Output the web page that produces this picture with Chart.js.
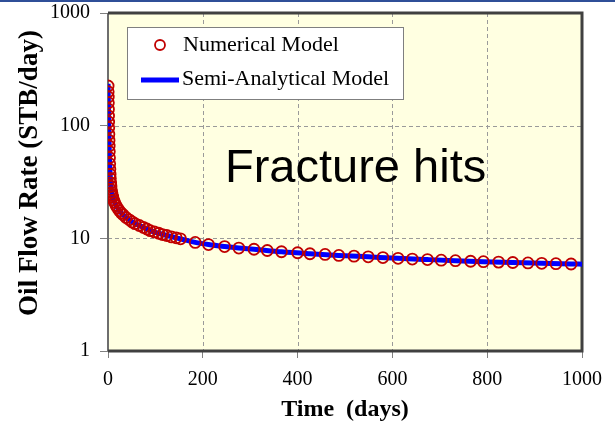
<!DOCTYPE html>
<html>
<head>
<meta charset="utf-8">
<script src="https://cdn.jsdelivr.net/npm/chart.js@4.4.0/dist/chart.umd.min.js"></script>
<style>
  html, body { margin: 0; padding: 0; background: #fff; }
  #wrap { position: relative; width: 615px; height: 434px; }
  #myChart { display: block; }
  #topbar { position: absolute; left: 0; top: 0; width: 615px; height: 2px; background: #2f4f98; }
</style>
</head>
<body>
<div id="wrap">
  <canvas id="myChart" width="615" height="434"></canvas>
  <div id="topbar"></div>
</div>
<script>
// Numerical model (red circles)
const numTimes = [0.2, 0.4, 0.6, 0.8, 1.0, 1.2, 1.4, 1.6, 1.9, 2.2, 2.5, 2.8, 3.2, 3.6, 4.0, 4.5, 5, 5.6, 6.3, 7, 8, 9, 10,
  12, 14, 17, 20, 24, 28, 32, 38, 45, 51, 57, 66, 75, 82, 89, 98, 107, 115, 124, 134, 144, 153,
  184, 212, 246, 276, 308, 336, 366, 400, 426, 458, 487, 519, 549, 580, 612, 642, 674, 703, 733,
  765, 792, 824, 854, 886, 915, 945, 977];
const numRates = [225, 200, 180, 160, 140, 122, 108, 96, 84, 74, 66, 59, 52, 46, 41, 37, 34, 31, 29, 27, 25.5, 24.3, 23.3,
  21.8, 20.8, 19.6, 18.6, 17.6, 16.8, 16.2, 15.3, 14.6, 14.0, 13.5, 13.0, 12.5, 12.1, 11.7, 11.4, 11.1, 10.8, 10.6, 10.3, 10.1, 9.9,
  9.2, 8.8, 8.45, 8.2, 8.0, 7.8, 7.6, 7.45, 7.3, 7.2, 7.05, 6.95, 6.85, 6.75, 6.65, 6.55, 6.48, 6.4, 6.33,
  6.26, 6.2, 6.15, 6.1, 6.05, 6.0, 5.96, 5.92];

// Semi-analytical model (blue line)
const lineTimes = [0.1, 0.3, 0.6, 1, 1.4, 1.8, 2.2, 2.6, 3, 3.5, 4, 5, 6, 7, 8, 10, 12, 14, 17, 20, 24, 28, 32, 38, 45,
  51, 57, 66, 75, 89, 107, 124, 144, 166, 184, 212, 246, 276, 308, 366, 426, 487, 549, 612, 674, 733, 792,
  854, 915, 977, 1000];
const lineRates = [235, 212, 180, 140, 108, 90, 74, 62, 54, 46, 41, 34, 30, 27, 25.5, 23.3, 21.8, 20.8, 19.6, 18.6, 17.6, 16.8, 16.2, 15.3, 14.6,
  14.0, 13.5, 13.0, 12.5, 11.7, 11.1, 10.6, 10.1, 9.6, 9.2, 8.8, 8.45, 8.2, 8.0, 7.6, 7.3, 7.05, 6.85, 6.65, 6.48, 6.33, 6.2,
  6.1, 6.0, 5.92, 5.9];

const xTicks = [0, 200, 400, 600, 800, 1000];
const yTicks = [1, 10, 100, 1000];

const seriesNames = ['Numerical Model', 'Semi-Analytical Model'];
const noteText = 'Fracture hits';
const yTitle = 'Oil Flow Rate (STB/day)';

const serif = '"Liberation Serif", "Times New Roman", serif';

const frame = {
  id: 'frame',
  beforeDraw(chart) {
    const {ctx, chartArea: a} = chart;
    ctx.save();
    ctx.fillStyle = '#ffffff';
    ctx.fillRect(0, 0, chart.width, chart.height);
    ctx.fillStyle = '#FFFFE1';
    ctx.fillRect(a.left, a.top, a.right - a.left, a.bottom - a.top);
    ctx.restore();
  },
  beforeDatasetsDraw(chart) {
    const {ctx, chartArea: a, scales} = chart;
    ctx.save();
    // dashed grid
    ctx.strokeStyle = '#9a9a9a';
    ctx.lineWidth = 1;
    ctx.setLineDash([4, 3]);
    xTicks.slice(1, -1).forEach(v => {
      const px = Math.round(scales.x.getPixelForValue(v)) + 0.5;
      ctx.beginPath();
      ctx.moveTo(px, a.top);
      ctx.lineTo(px, a.bottom);
      ctx.stroke();
    });
    yTicks.slice(1, -1).forEach(v => {
      const py = Math.round(scales.y.getPixelForValue(v)) + 0.5;
      ctx.beginPath();
      ctx.moveTo(a.left, py);
      ctx.lineTo(a.right, py);
      ctx.stroke();
    });
    ctx.setLineDash([]);
    // frame
    ctx.strokeStyle = '#6e6e6e';
    ctx.lineWidth = 2;
    ctx.beginPath();
    ctx.moveTo(a.left, a.top);
    ctx.lineTo(a.left, a.bottom);
    ctx.stroke();
    ctx.strokeStyle = '#404040';
    ctx.lineWidth = 3;
    ctx.beginPath();
    ctx.moveTo(a.left, a.top);
    ctx.lineTo(a.right, a.top);
    ctx.lineTo(a.right, a.bottom);
    ctx.lineTo(a.left, a.bottom);
    ctx.stroke();
    ctx.restore();
  },
  afterDatasetsDraw(chart) {
    const {ctx, chartArea: a} = chart;
    ctx.save();
    // legend box
    const lx = a.left + 19, ly = a.top + 14;
    ctx.fillStyle = '#ffffff';
    ctx.fillRect(lx, ly, 276, 72);
    ctx.strokeStyle = '#7f7f7f';
    ctx.lineWidth = 1;
    ctx.strokeRect(lx + 0.5, ly + 0.5, 276, 72);

    ctx.strokeStyle = '#C00000';
    ctx.lineWidth = 1.8;
    ctx.beginPath();
    ctx.arc(lx + 33, ly + 18, 5, 0, Math.PI * 2);
    ctx.stroke();

    ctx.strokeStyle = '#0000ff';
    ctx.lineWidth = 5;
    ctx.beginPath();
    ctx.moveTo(lx + 14, ly + 53);
    ctx.lineTo(lx + 52, ly + 53);
    ctx.stroke();

    ctx.fillStyle = '#000';
    ctx.font = '22px ' + serif;
    ctx.textBaseline = 'alphabetic';
    ctx.fillText(seriesNames[0], lx + 56, ly + 24);
    ctx.fillText(seriesNames[1], lx + 55, ly + 58);

    // annotation
    ctx.font = '47px "Liberation Sans", Arial, sans-serif';
    ctx.fillText(noteText, 225, 182);

    // y axis title
    ctx.translate(30, 173);
    ctx.rotate(-Math.PI / 2);
    ctx.font = 'bold 27px ' + serif;
    ctx.textAlign = 'center';
    ctx.textBaseline = 'middle';
    ctx.fillText(yTitle, 0, 0);
    ctx.restore();
  }
};

const tickFont = {family: serif, size: 20};

new Chart(document.getElementById('myChart'), {
  type: 'scatter',
  data: {
    datasets: [{
      type: 'scatter',
      label: seriesNames[0],
      data: numTimes.map((t, i) => ({x: t, y: numRates[i]})),
      pointRadius: 5.5,
      pointBorderWidth: 1.8,
      pointBorderColor: '#C00000',
      pointBackgroundColor: 'rgba(0,0,0,0)'
    }, {
      type: 'line',
      label: seriesNames[1],
      data: lineTimes.map((t, i) => ({x: t, y: lineRates[i]})),
      borderColor: '#0000ff',
      borderWidth: 5,
      pointRadius: 0,
      cubicInterpolationMode: 'monotone',
      fill: false
    }]
  },
  options: {
    responsive: false,
    animation: false,
    devicePixelRatio: 1,
    layout: {padding: {top: 13, right: 33, left: 0, bottom: 0}},
    plugins: {legend: {display: false}, tooltip: {enabled: false}},
    scales: {
      x: {
        type: 'linear',
        min: 0,
        max: 1000,
        afterBuildTicks: s => { s.ticks = xTicks.map(v => ({value: v})); },
        afterFit: s => { s.height = 83; s.paddingLeft = 0; s.paddingRight = 0; },
        ticks: {font: tickFont, color: '#000', padding: 10, maxRotation: 0, callback: v => String(v)},
        grid: {drawOnChartArea: false, tickColor: '#808080', tickLength: 7},
        border: {display: false},
        title: {
          display: true,
          text: 'Time  (days)',
          color: '#000',
          font: {family: serif, size: 24, weight: 'bold'},
          padding: {top: 0, bottom: 10}
        }
      },
      y: {
        type: 'logarithmic',
        min: 1,
        max: 1000,
        afterBuildTicks: s => { s.ticks = yTicks.map(v => ({value: v})); },
        afterFit: s => { s.width = 108; s.paddingTop = 0; s.paddingBottom = 0; },
        ticks: {font: tickFont, color: '#000', padding: 10, callback: v => String(v)},
        grid: {drawOnChartArea: false, tickColor: '#808080', tickLength: 8},
        border: {display: false}
      }
    }
  },
  plugins: [frame]
});
</script>
</body>
</html>
